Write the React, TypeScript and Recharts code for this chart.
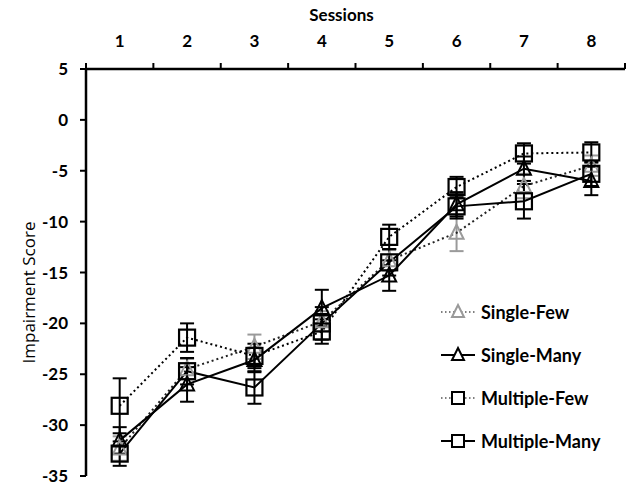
import React from 'react';
import { ComposedChart, Line, XAxis, YAxis, ErrorBar, Legend, Label } from 'recharts';

const sessions = [1, 2, 3, 4, 5, 6, 7, 8];
const yTicks = [-35, -30, -25, -20, -15, -10, -5, 0, 5];

const singleFew = [-32.3, -24.5, -22.3, -19.8, -13.8, -11.1, -6.5, -4.5];
const singleFewErr = [1.2, 1.0, 1.2, 1.0, 1.0, 1.8, 1.2, 1.0];
const singleMany = [-31.5, -26.0, -23.6, -18.5, -15.3, -8.3, -4.8, -6.0];
const singleManyErr = [1.3, 1.7, 1.2, 1.8, 1.5, 1.2, 1.2, 1.4];
const multipleFew = [-28.1, -21.4, -23.2, -20.8, -11.5, -6.6, -3.3, -3.2];
const multipleFewErr = [2.7, 1.4, 1.2, 1.2, 1.2, 1.0, 1.0, 1.0];
const multipleMany = [-32.8, -24.7, -26.3, -20.0, -14.0, -8.5, -8.0, -5.3];
const multipleManyErr = [1.2, 1.3, 1.6, 1.6, 1.3, 1.2, 1.7, 1.2];

const seriesNames = ['Single-Few', 'Single-Many', 'Multiple-Few', 'Multiple-Many'];

const data = sessions.map((s, i) => ({
  session: s,
  sf: singleFew[i],
  sfErr: singleFewErr[i],
  sm: singleMany[i],
  smErr: singleManyErr[i],
  mf: multipleFew[i],
  mfErr: multipleFewErr[i],
  mm: multipleMany[i],
  mmErr: multipleManyErr[i],
}));

const FONT = 'Lato, "Liberation Sans", sans-serif';
const GRAY = '#9a9a9a';

const CHART_W = 634;
const CHART_H = 486;
const MARGIN = { top: 0, right: 9, bottom: 10, left: 0 };
const Y_AXIS_W = 86;
const X_AXIS_H = 69;
const X_TICK_SIZE = 6;
const X_TICK_MARGIN = 16;
const HALF_BAND = (CHART_W - MARGIN.right - MARGIN.left - Y_AXIS_W) / sessions.length / 2;

const triPath = (cx: number, cy: number) =>
  `M${cx},${cy - 8} L${cx + 7},${cy + 6} L${cx - 7},${cy + 6} Z`;

const makeTriangle = (color: string) => (props: any) => {
  const { cx, cy, index } = props;
  if (cx == null || cy == null) return <g key={`t${index}`} />;
  return <path key={`t${index}`} d={triPath(cx, cy)} fill="none" stroke={color} strokeWidth={2} />;
};

const makeSquare = (color: string) => (props: any) => {
  const { cx, cy, index } = props;
  if (cx == null || cy == null) return <g key={`s${index}`} />;
  return <rect key={`s${index}`} x={cx - 8} y={cy - 8} width={16} height={16} fill="none" stroke={color} strokeWidth={2.2} />;
};

const legendItems = [
  { name: seriesNames[0], dashed: true, marker: 'tri', color: GRAY },
  { name: seriesNames[1], dashed: false, marker: 'tri', color: '#000' },
  { name: seriesNames[2], dashed: true, marker: 'sq', color: '#000' },
  { name: seriesNames[3], dashed: false, marker: 'sq', color: '#000' },
];

const renderLegend = () => (
  <div style={{ fontFamily: FONT }}>
    {legendItems.map((it) => (
      <div key={it.name} style={{ display: 'flex', alignItems: 'center', height: 43 }}>
        <svg width={36} height={20} style={{ display: 'block' }}>
          <line
            x1={1}
            x2={35}
            y1={10}
            y2={10}
            stroke={it.dashed ? '#555' : '#000'}
            strokeWidth={it.dashed ? 1.5 : 2}
            strokeDasharray={it.dashed ? '1.5 2.5' : undefined}
          />
          {it.marker === 'tri' ? (
            <path d="M18,3 L24,15 L12,15 Z" fill="#fff" stroke={it.color} strokeWidth={2} />
          ) : (
            <rect x={12} y={4} width={12} height={12} fill="#fff" stroke={it.color} strokeWidth={2} />
          )}
        </svg>
        <span style={{ marginLeft: 5, fontWeight: 700, fontSize: 18, color: '#000' }}>{it.name}</span>
      </div>
    ))}
  </div>
);

const tickStyle = { fontFamily: FONT, fontWeight: 700, fontSize: 17, fill: '#000' };

const SessionTick = (props: any) => {
  const { x, y, payload, index, visibleTicksCount } = props;
  const axisY = y + X_TICK_SIZE + X_TICK_MARGIN;
  const isLast = index === (visibleTicksCount ?? sessions.length) - 1;
  return (
    <g>
      <line x1={x - HALF_BAND} x2={x - HALF_BAND} y1={axisY} y2={axisY - 6} stroke="#000" strokeWidth={2} />
      {isLast && (
        <line x1={x + HALF_BAND} x2={x + HALF_BAND} y1={axisY} y2={axisY - 6} stroke="#000" strokeWidth={2} />
      )}
      <text x={x} y={y} textAnchor="middle" fill="#000" style={tickStyle}>
        {payload.value}
      </text>
    </g>
  );
};

export default function App() {
  return (
    <div style={{ position: 'absolute', left: 0, top: 0, width: CHART_W, height: CHART_H, background: '#fff' }}>
      <ComposedChart width={CHART_W} height={CHART_H} data={data} margin={MARGIN}>
        <XAxis
          xAxisId="main"
          type="number"
          dataKey="session"
          orientation="top"
          domain={[0.5, 8.5]}
          allowDataOverflow
          ticks={sessions}
          interval={0}
          height={X_AXIS_H}
          tickLine={false}
          tickSize={X_TICK_SIZE}
          tickMargin={X_TICK_MARGIN}
          tick={SessionTick}
          axisLine={{ stroke: '#000', strokeWidth: 2.5 }}
        >
          <Label
            content={(p: any) => {
              const vb = p.viewBox || {};
              return (
                <text
                  x={vb.x + vb.width / 2 - 14}
                  y={21}
                  textAnchor="middle"
                  fill="#000"
                  style={{ fontFamily: FONT, fontWeight: 700, fontSize: 17, fill: '#000' }}
                >
                  Sessions
                </text>
              );
            }}
          />
        </XAxis>
        <YAxis
          type="number"
          domain={[-35, 5]}
          ticks={yTicks}
          interval={0}
          width={Y_AXIS_W}
          tickSize={6}
          tickMargin={12}
          tick={tickStyle}
          tickLine={{ stroke: '#000', strokeWidth: 2 }}
          axisLine={{ stroke: '#000', strokeWidth: 2.5 }}
        >
          <Label
            content={(p: any) => {
              const vb = p.viewBox || {};
              const x = vb.x + 28;
              const y = vb.y + vb.height / 2 + 20;
              return (
                <text
                  x={x}
                  y={y}
                  transform={`rotate(-90, ${x}, ${y})`}
                  textAnchor="middle"
                  dominantBaseline="central"
                  fill="#000"
                  style={{ fontFamily: '"Open Sans", "Liberation Sans", sans-serif', fontSize: 17, fontWeight: 400, fill: '#000' }}
                >
                  Impairment Score
                </text>
              );
            }}
          />
        </YAxis>
        <Legend
          layout="vertical"
          align="center"
          verticalAlign="middle"
          content={renderLegend}
          wrapperStyle={{ position: 'absolute', left: 440, top: 290, width: 194, height: 172 }}
        />
        <Line
          xAxisId="main"
          name={seriesNames[0]}
          dataKey="sf"
          stroke="#222"
          strokeWidth={2}
          strokeDasharray="2 3"
          dot={makeTriangle(GRAY)}
          activeDot={false}
          isAnimationActive={false}
        >
          <ErrorBar dataKey="sfErr" width={7} stroke={GRAY} strokeWidth={2} direction="y" />
        </Line>
        <Line
          xAxisId="main"
          name={seriesNames[2]}
          dataKey="mf"
          stroke="#000"
          strokeWidth={2}
          strokeDasharray="2 3"
          dot={makeSquare('#000')}
          activeDot={false}
          isAnimationActive={false}
        >
          <ErrorBar dataKey="mfErr" width={7} stroke="#000" strokeWidth={2} direction="y" />
        </Line>
        <Line
          xAxisId="main"
          name={seriesNames[1]}
          dataKey="sm"
          stroke="#000"
          strokeWidth={2}
          dot={makeTriangle('#000')}
          activeDot={false}
          isAnimationActive={false}
        >
          <ErrorBar dataKey="smErr" width={7} stroke="#000" strokeWidth={2} direction="y" />
        </Line>
        <Line
          xAxisId="main"
          name={seriesNames[3]}
          dataKey="mm"
          stroke="#000"
          strokeWidth={2}
          dot={makeSquare('#000')}
          activeDot={false}
          isAnimationActive={false}
        >
          <ErrorBar dataKey="mmErr" width={7} stroke="#000" strokeWidth={2} direction="y" />
        </Line>
      </ComposedChart>
    </div>
  );
}
